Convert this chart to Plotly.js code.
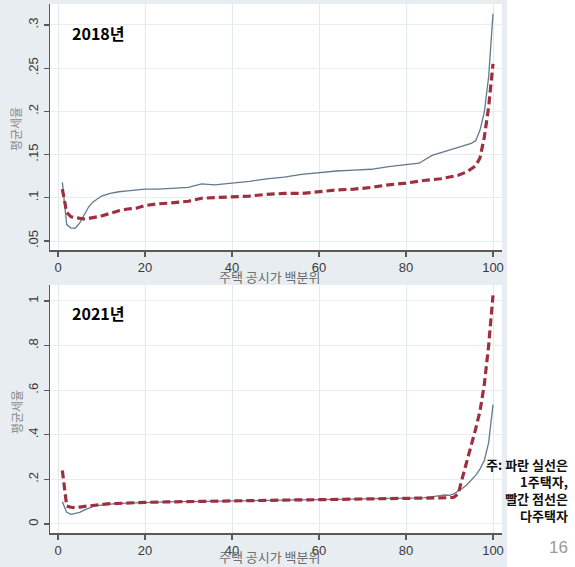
<!DOCTYPE html>
<html>
<head>
<meta charset="utf-8">
<script src="https://cdn.plot.ly/plotly-3.0.1.min.js"></script>
<style>
html,body{margin:0;padding:0;background:#ffffff;}
#chart{width:575px;height:567px;}
</style>
</head>
<body>
<div id="chart"></div>
<script>
// ---- data (percentile of official house price -> average tax rate) ----
var x2018Single = [1,2,3,4,5,6,7,8,9,10,12,14,16,18,20,23,26,30,33,36,40,44,48,52,56,60,64,68,72,76,80,83,86,88,90,92,94,95,96,97,98,99,100];
var y2018Single = [0.118,0.069,0.065,0.065,0.071,0.080,0.089,0.095,0.099,0.102,0.105,0.107,0.108,0.109,0.110,0.110,0.111,0.112,0.116,0.115,0.117,0.119,0.122,0.124,0.127,0.129,0.131,0.132,0.133,0.136,0.138,0.140,0.149,0.152,0.155,0.158,0.161,0.163,0.166,0.178,0.199,0.240,0.313];

var x2018Multi = [1,2,3,4,5,6,7,8,9,10,12,14,16,18,20,23,26,30,33,36,40,44,48,52,56,60,64,68,72,76,80,84,88,90,92,94,95,96,97,98,99,100];
var y2018Multi = [0.110,0.083,0.078,0.077,0.076,0.0755,0.076,0.077,0.078,0.079,0.082,0.085,0.087,0.088,0.091,0.093,0.094,0.096,0.0995,0.100,0.101,0.102,0.104,0.105,0.105,0.107,0.109,0.110,0.112,0.115,0.117,0.120,0.122,0.124,0.126,0.130,0.133,0.137,0.146,0.170,0.205,0.255];

var x2021Single = [1,2,3,4,5,6,7,8,9,10,12,14,16,18,20,25,30,35,40,45,50,55,60,65,70,75,80,84,87,89,90,91,92,93,94,95,96,97,98,99,100];
var y2021Single = [0.100,0.052,0.043,0.046,0.052,0.062,0.071,0.078,0.082,0.085,0.089,0.092,0.094,0.095,0.096,0.099,0.101,0.103,0.105,0.106,0.107,0.108,0.109,0.110,0.111,0.112,0.114,0.117,0.125,0.130,0.128,0.135,0.148,0.160,0.176,0.196,0.218,0.246,0.285,0.365,0.535];

var x2021Multi = [1,2,3,4,5,6,8,10,12,14,16,18,20,25,30,35,40,45,50,55,60,65,70,75,80,85,88,90,91,92,93,94,95,96,97,98,99,100];
var y2021Multi = [0.240,0.080,0.075,0.073,0.076,0.079,0.084,0.088,0.091,0.093,0.095,0.096,0.097,0.099,0.101,0.103,0.105,0.106,0.107,0.108,0.109,0.110,0.111,0.113,0.114,0.116,0.117,0.118,0.120,0.135,0.210,0.280,0.350,0.425,0.505,0.625,0.800,1.025];

var xTickVals = [0,20,40,60,80,100];
var xTickText = ['0','20','40','60','80','100'];
var yTickVals2018 = [0.05,0.1,0.15,0.2,0.25,0.3];
var yTickText2018 = ['.05','.1','.15','.2','.25','.3'];
var yTickVals2021 = [0,0.2,0.4,0.6,0.8,1];
var yTickText2021 = ['0','.2','.4','.6','.8','1'];

var panelLabels = ['2018년','2021년'];
var xTitleText = '주택 공시가 백분위';
var yTitleText = '평균세율';
var noteText = '주: 파란 실선은<br>1주택자,<br>빨간 점선은<br>다주택자';
var pageNumber = '16';

// ---- styling ----
var blueCol = '#62798e';
var redCol = '#9e2f3f';
var bgGray = '#e7edf0';
var W = 575, H = 567;
function px(v){return v / W;}
function py(v){return 1 - v / H;}

var traces = [
  {x: x2018Single, y: y2018Single, xaxis:'x', yaxis:'y', type:'scatter', mode:'lines',
   line:{color:blueCol, width:1.3}, name:'1주택자', showlegend:false},
  {x: x2018Multi, y: y2018Multi, xaxis:'x', yaxis:'y', type:'scatter', mode:'lines',
   line:{color:redCol, width:3.2, dash:'8px,4px'}, name:'다주택자', showlegend:false},
  {x: x2021Single, y: y2021Single, xaxis:'x2', yaxis:'y2', type:'scatter', mode:'lines',
   line:{color:blueCol, width:1.3}, name:'1주택자', showlegend:false},
  {x: x2021Multi, y: y2021Multi, xaxis:'x2', yaxis:'y2', type:'scatter', mode:'lines',
   line:{color:redCol, width:3.2, dash:'8px,4px'}, name:'다주택자', showlegend:false}
];

var tickFont = {family:'"Liberation Sans", Arial, sans-serif', size:13, color:'#3a3a3a'};
function xAxis(anchor){
  return {domain:[px(50), px(502)], range:[-1.84, 102.07], anchor:anchor,
    tickmode:'array', tickvals:xTickVals, ticktext:xTickText,
    showline:true, linecolor:'#5a5a5a', linewidth:1.5, ticks:'outside', ticklen:5,
    tickcolor:'#5a5a5a', tickwidth:1.2, tickfont:tickFont,
    showgrid:true, gridcolor:'#e2e8eb', gridwidth:1, zeroline:false, fixedrange:true};
}
function yAxis(anchor, dom, rng, tv, tt){
  return {domain:dom, range:rng, anchor:anchor,
    tickmode:'array', tickvals:tv, ticktext:tt, tickangle:-90,
    showline:true, linecolor:'#5a5a5a', linewidth:1.5, ticks:'outside', ticklen:5,
    tickcolor:'#5a5a5a', tickwidth:1.2, tickfont:tickFont,
    showgrid:true, gridcolor:'#e8edf0', gridwidth:1, zeroline:false, fixedrange:true};
}

var annFontTitle = {family:'"Noto Sans CJK KR", sans-serif', size:13, color:'#6e6e6e'};
var annFontYTitle = {family:'"Noto Sans CJK KR", sans-serif', size:12, color:'#8a8a8a'};
var annFontPanel = {family:'"Noto Sans CJK KR", sans-serif', size:16, color:'#000000', weight:700};

var layout = {
  width:W, height:H,
  margin:{l:0, r:0, t:0, b:0, pad:0},
  paper_bgcolor:bgGray,
  plot_bgcolor:'#ffffff',
  showlegend:false,
  xaxis: xAxis('y'),
  yaxis: yAxis('x', [py(250), py(4)], [0.0396, 0.3242], yTickVals2018, yTickText2018),
  xaxis2: xAxis('y2'),
  yaxis2: yAxis('x2', [py(533), py(285)], [-0.0404, 1.0717], yTickVals2021, yTickText2021),
  shapes:[
    {type:'rect', xref:'paper', yref:'paper', x0:px(507), x1:1.01, y0:-0.01, y1:1.01,
     fillcolor:'#ffffff', line:{width:0}, layer:'below'}
  ],
  annotations:[
    {xref:'paper', yref:'paper', x:px(70), y:py(33), xanchor:'left', yanchor:'middle',
     text:'<b>'+panelLabels[0]+'</b>', showarrow:false, font:annFontPanel},
    {xref:'paper', yref:'paper', x:px(70), y:py(313), xanchor:'left', yanchor:'middle',
     text:'<b>'+panelLabels[1]+'</b>', showarrow:false, font:annFontPanel},
    {xref:'paper', yref:'paper', x:px(270), y:py(276), xanchor:'center', yanchor:'middle',
     text:xTitleText, showarrow:false, font:annFontTitle},
    {xref:'paper', yref:'paper', x:px(270), y:py(556), xanchor:'center', yanchor:'middle',
     text:xTitleText, showarrow:false, font:annFontTitle},
    {xref:'paper', yref:'paper', x:px(16), y:py(129), xanchor:'center', yanchor:'middle',
     text:yTitleText, textangle:-90, showarrow:false, font:annFontYTitle},
    {xref:'paper', yref:'paper', x:px(16), y:py(412), xanchor:'center', yanchor:'middle',
     text:yTitleText, textangle:-90, showarrow:false, font:annFontYTitle},
    {xref:'paper', yref:'paper', x:px(570), y:py(490), xanchor:'right', yanchor:'middle', align:'right',
     text:'<b>'+noteText+'</b>', showarrow:false,
     font:{family:'"Noto Sans CJK KR", sans-serif', size:13, color:'#111111'}},
    {xref:'paper', yref:'paper', x:px(558), y:py(547), xanchor:'center', yanchor:'middle',
     text:pageNumber, showarrow:false,
     font:{family:'"Liberation Sans", Arial, sans-serif', size:17, color:'#9a9a9a'}}
  ]
};

Plotly.newPlot('chart', traces, layout, {displayModeBar:false, staticPlot:true});
</script>
</body>
</html>
